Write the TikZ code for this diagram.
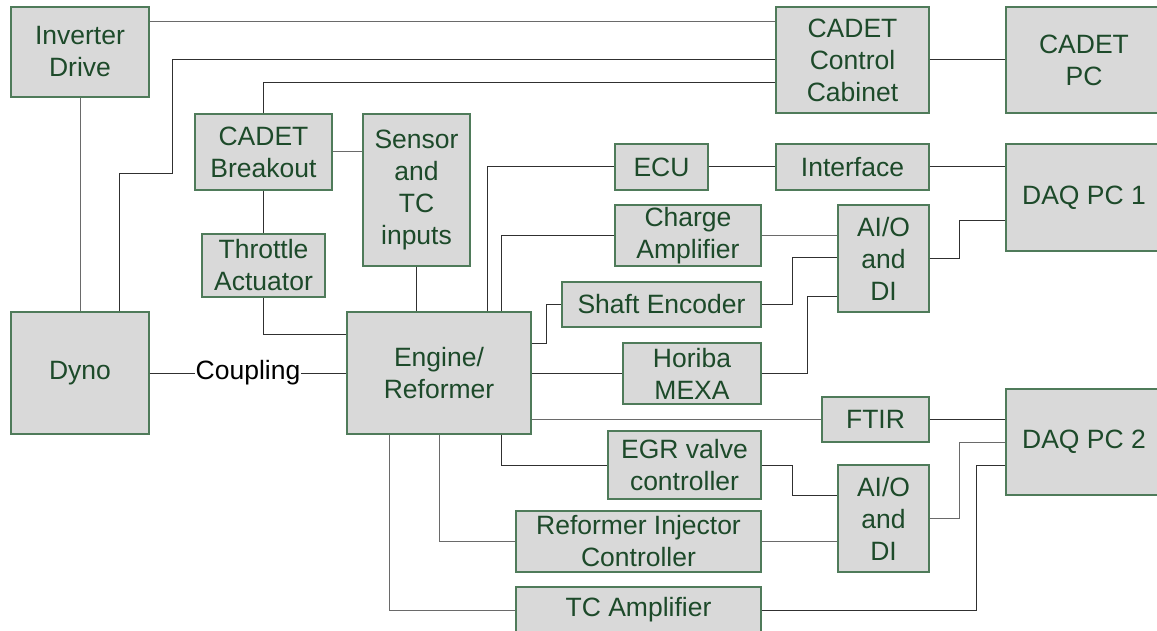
\documentclass[tikz,border=0pt]{standalone}
\usepackage{fontspec}
\setmainfont{Liberation Sans}
\definecolor{boxfill}{HTML}{D9D9D9}
\definecolor{boxline}{HTML}{4F7B5A}
\definecolor{boxtext}{HTML}{1D4A2A}
\definecolor{wiredark}{HTML}{303030}
\definecolor{wiregray}{HTML}{6A6A6A}
\tikzset{
  box/.style={draw=boxline, fill=boxfill, line width=1.2pt, text=boxtext,
    align=center, inner sep=0pt, font=\fontsize{26.5}{32}\selectfont},
  wire/.style={draw=wiredark, line width=1pt},
  wireg/.style={draw=wiregray, line width=1pt},
}
\begin{document}
\begin{tikzpicture}[x=1pt,y=-1pt]
\useasboundingbox (0,0) rectangle (1157,631);
% boxes
\node[box, minimum width=138, minimum height=90]  (inv)  at (80,52)      {Inverter\\Drive};
\node[box, minimum width=153, minimum height=106] (cab)  at (852.5,60)   {CADET\\Control\\Cabinet};
\node[box, minimum width=156, minimum height=106] (pc)   at (1084,60)    {CADET\\PC};
\node[box, minimum width=137, minimum height=76]  (brk)  at (263.5,152)  {CADET\\Breakout};
\node[box, minimum width=107, minimum height=152] (sen)  at (416.5,190)  {Sensor\\and\\TC\\inputs};
\node[box, minimum width=123, minimum height=63]  (thr)  at (263.5,265.5){Throttle\\Actuator};
\node[box, minimum width=138, minimum height=122] (dyno) at (80,373)     {Dyno};
\node[box, minimum width=184, minimum height=122] (eng)  at (439,373)    {Engine/\\Reformer};
\node[box, minimum width=93,  minimum height=46]  (ecu)  at (661.5,167)  {ECU};
\node[box, minimum width=153, minimum height=46]  (ifc)  at (852.5,167)  {Interface};
\node[box, minimum width=156, minimum height=107] (daq1) at (1084,197.5) {DAQ PC 1};
\node[box, minimum width=146, minimum height=61]  (chg)  at (688,235.5)  {Charge\\Amplifier};
\node[box, minimum width=91,  minimum height=107] (aio1) at (883.5,258.5){AI/O\\and\\DI};
\node[box, minimum width=199, minimum height=45]  (sh)   at (661.5,304.5){Shaft Encoder};
\node[box, minimum width=138, minimum height=61]  (hor)  at (692,373.5)  {Horiba\\MEXA};
\node[box, minimum width=107, minimum height=45]  (ftir) at (875.5,419.5){FTIR};
\node[box, minimum width=156, minimum height=106] (daq2) at (1084,442)   {DAQ PC 2};
\node[box, minimum width=153, minimum height=68]  (egr)  at (684.5,465)  {EGR valve\\controller};
\node[box, minimum width=91,  minimum height=107] (aio2) at (883.5,518.5){AI/O\\and\\DI};
\node[box, minimum width=245, minimum height=61]  (ric)  at (638.5,541.5){Reformer Injector\\Controller};
\node[box, minimum width=245, minimum height=46]  (tc)   at (638.5,610)  {TC Amplifier};
% connectors
\draw[wireg] (inv.east |- 0,22) -- (cab.west |- 0,22);
\draw[wire]  (dyno.north -| 119,0) -- (119,174) -- (172,174) -- (172,60) -- (cab.west |- 0,60);
\draw[wire]  (brk.north) |- (cab.west |- 0,83);
\draw[wire]  (cab.east) -- (pc.west |- cab.east);
\draw[wireg] (inv.south) -- (dyno.north);
\draw[wireg] (brk.east) -- (sen.west |- brk.east);
\draw[wire]  (brk.south) -- (thr.north);
\draw[wire]  (thr.south) |- (eng.west |- 0,334);
\draw[wire]  (dyno.east) -- node[fill=white, inner sep=0.5pt, text=black, font=\fontsize{26.5}{32}\selectfont] (cpl) {Coupling} (eng.west);
\draw[wire]  (sen.south) -- (eng.north -| sen.south);
\draw[wire]  (eng.north -| 487,0) |- (ecu.west);
\draw[wire]  (ecu.east) -- (ifc.west);
\draw[wire]  (ifc.east) -- (daq1.west |- ifc.east);
\draw[wire]  (eng.north -| 501,0) |- (chg.west);
\draw[wireg] (chg.east) -- (aio1.west |- chg.east);
\draw[wire]  (eng.east |- 0,343) -- (546,343) |- (sh.west);
\draw[wire]  (sh.east) -- (792,304.5) |- (aio1.west |- 0,258);
\draw[wire]  (eng.east |- 0,373.5) -- (hor.west);
\draw[wire]  (hor.east) -- (807,373.5) |- (aio1.west |- 0,296);
\draw[wire]  (aio1.east) -- (959,258.5) |- (daq1.west |- 0,221);
\draw[wireg] (eng.east |- 0,419) -- (ftir.west |- 0,419);
\draw[wire]  (ftir.east) -- (daq2.west |- ftir.east);
\draw[wire]  (eng.south -| 501,0) |- (egr.west);
\draw[wire]  (egr.east) -- (792,465) |- (aio2.west |- 0,495);
\draw[wireg] (eng.south -| 439,0) |- (ric.west);
\draw[wireg] (ric.east) -- (aio2.west |- ric.east);
\draw[wireg] (aio2.east) -- (959,518.5) |- (daq2.west |- 0,442);
\draw[wireg] (eng.south -| 389,0) |- (tc.west);
\draw[wire]  (tc.east) -- (976,610) |- (daq2.west |- 0,465);
\end{tikzpicture}
\end{document}
